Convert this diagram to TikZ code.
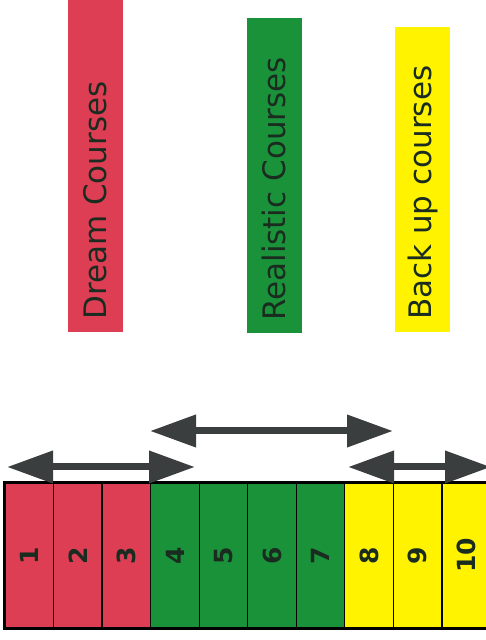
\documentclass[tikz,border=0pt]{standalone}
\usepackage{fontspec}
\setmainfont{DejaVu Sans}
\usetikzlibrary{arrows.meta}

\definecolor{dreamred}{RGB}{222,62,84}
\definecolor{realgreen}{RGB}{26,146,58}
\definecolor{backyellow}{RGB}{255,243,0}
\definecolor{arrowgray}{RGB}{58,62,62}
\definecolor{inkdark}{RGB}{26,44,32}

\begin{document}
\begin{tikzpicture}[x=1pt,y=1pt]
    \tikzset{cell/.style={draw=black, line width=1.2pt, minimum width=48.5pt, minimum height=145pt,
            inner sep=0pt, text=inkdark, font=\bfseries\fontsize{25}{25}\selectfont},
        catbox/.style={draw=none, minimum width=55pt, inner sep=0pt},
        catlabel/.style={rotate=90, anchor=west, inner sep=0pt, text=inkdark, font=\fontsize{31}{31}\selectfont},
        bothway/.style={arrowgray, line width=7pt, {Triangle[length=46pt,width=31pt]}-{Triangle[length=46pt,width=31pt]}}}

    \useasboundingbox (0,0) rectangle (486,640);
    \clip (0,0) rectangle (486,640);

    % category boxes
    \node[catbox, fill=dreamred, minimum height=342pt, anchor=south] (dream) at (95.5,308) {};
    \node[catbox, fill=realgreen, minimum height=315pt, anchor=south] (real) at (274,307) {};
    \node[catbox, fill=backyellow, minimum height=305pt, anchor=south] (back) at (422.5,308) {};
    \node[catlabel] (dreamtxt) at ([yshift=12pt]dream.south) {Dream Courses};
    \node[catlabel] (realtxt) at ([yshift=12pt]real.south) {Realistic Courses};
    \node[catlabel] (backtxt) at ([yshift=12pt]back.south) {Back up courses};

    % strip of ten
    \foreach \i/\c in {1/dreamred,2/dreamred,3/dreamred,4/realgreen,5/realgreen,6/realgreen,7/realgreen,8/backyellow,9/backyellow,10/backyellow}
        \node[cell, fill=\c] (c\i) at (5+48.55*\i-24.27,84.5) {\rotatebox{90}{\i}};
    \draw[line width=2.4pt] (c10.north east) -- (c1.north west) -- (c1.south west) -- (c10.south east);

    % ranges
    \coordinate (d1) at (7,173);
    \coordinate (d2) at (195,173);
    \coordinate (r1) at (150,209);
    \coordinate (r2) at (393,209);
    \coordinate (b1) at (348,173);
    \coordinate (b2) at (491,173);
    \draw[bothway] (d1) -- (d2);
    \draw[bothway] (r1) -- (r2);
    \draw[bothway] (b1) -- (b2);
\end{tikzpicture}
\end{document}
